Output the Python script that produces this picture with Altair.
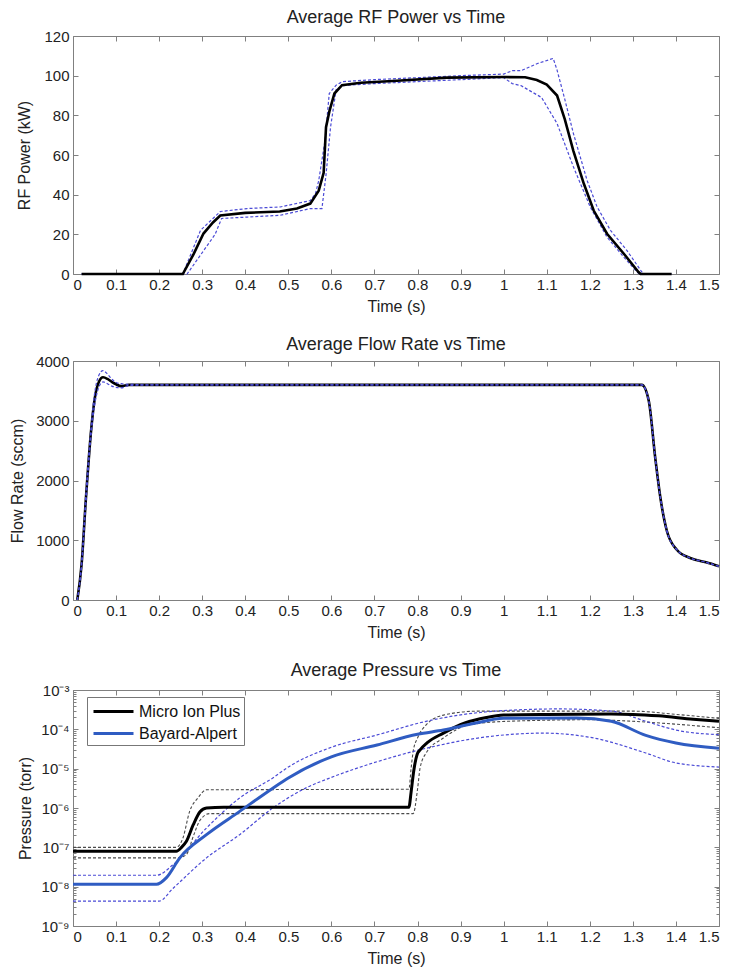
import altair as alt
import pandas as pd

FONT = "Liberation Sans"
BLUE_DASH = "#4b4bd6"
BLUE_MEAN = "#2f5cc2"
GRAY_DASH = "#4a4a4a"
FRAME = "#808080"

# ---------------- data: RF power ----------------
rf_mean_t = [0.02, 0.255, 0.28, 0.303, 0.325, 0.342, 0.40, 0.48, 0.52, 0.551, 0.5705, 0.582, 0.5875,
             0.5953, 0.607, 0.6246, 0.6685, 0.7523, 0.8685, 1.0, 1.05, 1.077, 1.10, 1.124, 1.142,
             1.162, 1.186, 1.209, 1.24, 1.279, 1.313, 1.318, 1.39]
rf_mean_v = [0, 0, 10, 20.4, 26, 29.5, 30.8, 31.5, 33, 35.5, 42, 51, 74,
             82, 91, 95.2, 96.4, 97.4, 99, 99.3, 99.2, 97.8, 95.5, 90, 78,
             62, 45.6, 32, 20.3, 10.2, 1, 0, 0]
rf_up_t = [0.02, 0.255, 0.296, 0.325, 0.342, 0.404, 0.481, 0.551, 0.563, 0.5705, 0.585, 0.595, 0.611,
           0.626, 0.70, 0.80, 0.90, 1.0, 1.02, 1.04, 1.077, 1.115, 1.124, 1.142, 1.162, 1.194, 1.217,
           1.248, 1.286, 1.321, 1.325, 1.39]
rf_up_v = [0, 0, 22, 28, 31.5, 33, 33.8, 37, 40.5, 47, 67, 91, 95.2,
           97, 98, 99, 100, 100.8, 102.5, 102.5, 106, 108.7, 102.8, 88, 70.8, 47, 33.8,
           22, 11.9, 1, 0, 0]
rf_lo_t = [0.02, 0.265, 0.33, 0.345, 0.404, 0.481, 0.551, 0.578, 0.5875, 0.598, 0.611, 0.626, 0.70,
           0.80, 0.90, 1.0, 1.02, 1.04, 1.088, 1.124, 1.162, 1.201, 1.24, 1.279, 1.31, 1.315, 1.39]
rf_lo_v = [0, 0, 20, 28, 28.7, 29.6, 33, 33, 50, 74, 93, 95, 96,
           97, 98, 99, 96, 95, 89, 75.9, 54, 33.8, 18.6, 8.5, 1, 0, 0]

# ---------------- data: flow rate ----------------
fl_t = [0.01, 0.02, 0.03, 0.0426, 0.05, 0.06, 0.0697, 0.08, 0.09, 0.10, 0.112, 0.13, 0.2,
        1.321, 1.337, 1.352, 1.364, 1.379, 1.402, 1.433, 1.47, 1.5]
fl_mean_v = [0, 600, 1700, 2880, 3350, 3650, 3727, 3700, 3650, 3610, 3580, 3600, 3600,
             3600, 3330, 2376, 1707, 1155, 842, 703, 630, 564]
fl_up_v = [0, 650, 1800, 2950, 3450, 3760, 3840, 3780, 3700, 3640, 3620, 3610, 3600,
           3600, 3330, 2376, 1707, 1155, 842, 703, 630, 564]
fl_lo_v = [0, 550, 1600, 2800, 3250, 3560, 3650, 3620, 3580, 3560, 3550, 3590, 3600,
           3600, 3330, 2376, 1707, 1155, 842, 703, 630, 564]

# ---------------- data: pressure ----------------
mi_mean_t = [0, 0.24, 0.252, 0.263, 0.279, 0.295, 0.31, 0.35, 0.78, 0.785, 0.791, 0.799, 0.806,
             0.822, 0.86, 0.91, 0.96, 1.0, 1.1, 1.25, 1.3, 1.36, 1.44, 1.5]
mi_mean_v = [8e-8, 8e-8, 1e-7, 1.4e-7, 3.7e-7, 8e-7, 1e-6, 1.05e-6, 1.05e-6, 2.5e-6, 8.5e-6, 2.3e-5, 3e-5,
             4.5e-5, 8e-5, 1.45e-4, 2e-4, 2.3e-4, 2.4e-4, 2.45e-4, 2.4e-4, 2.2e-4, 1.8e-4, 1.6e-4]
mi_up_t = [0, 0.24, 0.255, 0.271, 0.29, 0.31, 0.78, 0.785, 0.79, 0.80, 0.82, 0.86, 0.94, 1.3, 1.4, 1.5]
mi_up_v = [1e-7, 1e-7, 1.7e-7, 8.3e-7, 1.8e-6, 2.9e-6, 3e-6, 1e-5, 2.8e-5, 6e-5, 1.3e-4, 2.3e-4, 2.9e-4,
           2.9e-4, 2.4e-4, 1.9e-4]
mi_lo_t = [0, 0.245, 0.263, 0.28, 0.294, 0.317, 0.79, 0.80, 0.806, 0.82, 0.86, 0.92, 1.01, 1.2, 1.3, 1.4, 1.5]
mi_lo_v = [5.4e-8, 5.4e-8, 6.5e-8, 2e-7, 4.7e-7, 7.2e-7, 7.2e-7, 3e-6, 1.05e-5, 2.5e-5, 6e-5, 1.3e-4,
           1.6e-4, 1.75e-4, 1.6e-4, 1.35e-4, 1.1e-4]
ba_mean_t = [0, 0.194, 0.217, 0.248, 0.31, 0.387, 0.464, 0.5, 0.6, 0.706, 0.80, 0.86, 0.93, 1.0,
             1.17, 1.25, 1.33, 1.40, 1.5]
ba_mean_v = [1.15e-8, 1.15e-8, 1.7e-8, 5.4e-8, 2.1e-7, 8.2e-7, 3.2e-6, 5.8e-6, 2e-5, 4e-5, 7.5e-5, 9.6e-5,
             1.4e-4, 1.9e-4, 1.95e-4, 1.6e-4, 7e-5, 4.5e-5, 3.3e-5]
ba_up_t = [0, 0.194, 0.232, 0.31, 0.387, 0.464, 0.5, 0.6, 0.706, 0.82, 0.98, 1.13, 1.25, 1.33, 1.40, 1.5]
ba_up_v = [1.95e-8, 1.95e-8, 3.6e-8, 3.1e-7, 1.8e-6, 5.8e-6, 1.1e-5, 3.5e-5, 7.2e-5, 1.6e-4, 2.9e-4,
           3.3e-4, 2.9e-4, 1.6e-4, 9.6e-5, 7.3e-5]
ba_lo_t = [0, 0.2, 0.232, 0.31, 0.387, 0.464, 0.54, 0.6, 0.706, 0.82, 0.94, 1.09, 1.21, 1.33, 1.40, 1.5]
ba_lo_v = [4.3e-9, 4.3e-9, 9e-9, 5.4e-8, 2.1e-7, 1e-6, 3.2e-6, 6e-6, 1.5e-5, 3.3e-5, 6e-5, 8e-5, 6e-5,
           2.5e-5, 1.4e-5, 1.1e-5]

# ---------------- ticks ----------------
x_ticks = [0, 0.1, 0.2, 0.3, 0.4, 0.5, 0.6, 0.7, 0.8, 0.9, 1.0, 1.1, 1.2, 1.3, 1.4, 1.5]
rf_ticks = [0, 20, 40, 60, 80, 100, 120]
fl_ticks = [0, 1000, 2000, 3000, 4000]
p_ticks = [1e-9, 1e-8, 1e-7, 1e-6, 1e-5, 1e-4, 1e-3]
p_minor = [m * d for d in [1e-9, 1e-8, 1e-7, 1e-6, 1e-5, 1e-4] for m in range(2, 10)]

W = 646


def frame_df(t, v, s):
    return pd.DataFrame({"t": t, "v": v, "s": s})


xs = alt.Scale(domain=[0, 1.5], nice=False, zero=False)


def x_bottom():
    return alt.Axis(values=x_ticks, format="~g", title="Time (s)", offset=-5, tickSize=5,
                    labelPadding=3, titlePadding=6, grid=False, domain=False)


def x_top():
    return alt.Axis(values=x_ticks, orient="top", labels=False, title=None, offset=-5, tickSize=5,
                    grid=False, domain=False)


def make_axes_layers(df, ys, yticks, ytitle, ytitle_pad, ylabel_expr=None, yformat="d"):
    left_kwargs = dict(values=yticks, title=ytitle, offset=-5, tickSize=5, labelPadding=4,
                       titlePadding=ytitle_pad, grid=False, domain=False)
    if ylabel_expr:
        left_kwargs["labelExpr"] = ylabel_expr
    else:
        left_kwargs["format"] = yformat
    left = alt.Chart(df).mark_line(opacity=0).encode(
        x=alt.X("t:Q", scale=xs, axis=x_bottom()),
        y=alt.Y("v:Q", scale=ys, axis=alt.Axis(**left_kwargs)),
        detail="s:N",
    )
    right = alt.Chart(df).mark_line(opacity=0).encode(
        x=alt.X("t:Q", scale=xs, axis=x_top()),
        y=alt.Y("v:Q", scale=ys, axis=alt.Axis(values=yticks, orient="right", labels=False,
                                                title=None, offset=-5, tickSize=5,
                                                grid=False, domain=False)),
        detail="s:N",
    )
    return [left, right]


def plain_line(df, ys, color, width, dash=None, interp="linear"):
    kw = dict(color=color, strokeWidth=width, interpolate=interp)
    if dash:
        kw["strokeDash"] = dash
    return alt.Chart(df).mark_line(**kw).encode(
        x=alt.X("t:Q", scale=xs, axis=None),
        y=alt.Y("v:Q", scale=ys, axis=None),
        detail="s:N",
    )


def title_params(text, offset=0):
    return alt.TitleParams(text, fontSize=18, fontWeight="normal", font=FONT, color="#222",
                           offset=offset)


# ---------- top panel ----------
rf_b = pd.concat([frame_df(rf_up_t, rf_up_v, "up"), frame_df(rf_lo_t, rf_lo_v, "lo")])
rf_m = frame_df(rf_mean_t, rf_mean_v, "mean")
rf_ys = alt.Scale(domain=[0, 120], nice=False, zero=False)
top = alt.layer(
    *make_axes_layers(rf_m, rf_ys, rf_ticks, "RF Power (kW)", 11),
    plain_line(rf_b, rf_ys, BLUE_DASH, 1.2, [3, 2]),
    plain_line(rf_m, rf_ys, "#000000", 2.6),
).resolve_axis(x="independent", y="independent").properties(
    width=W, height=238, title=title_params("Average RF Power vs Time", 2))

# ---------- middle panel ----------
fl_b = pd.concat([frame_df(fl_t, fl_up_v, "up"), frame_df(fl_t, fl_lo_v, "lo")])
fl_m = frame_df(fl_t, fl_mean_v, "mean")
fl_ys = alt.Scale(domain=[0, 4000], nice=False, zero=False)
mid = alt.layer(
    *make_axes_layers(fl_m, fl_ys, fl_ticks, "Flow Rate (sccm)", 10),
    plain_line(fl_m, fl_ys, "#000000", 2.6, interp="monotone"),
    plain_line(fl_b, fl_ys, BLUE_DASH, 1.2, [3, 2], interp="monotone"),
).resolve_axis(x="independent", y="independent").properties(
    width=W, height=239, title=title_params("Average Flow Rate vs Time", 0))

# ---------- bottom panel ----------
p_ys = alt.Scale(type="log", domain=[1e-9, 1e-3], nice=False)
sup_expr = ("'10' + '⁻' + substring('⁰¹²³⁴⁵⁶⁷⁸⁹', -round(log(datum.value)/LN10), "
            "-round(log(datum.value)/LN10)+1)")
mi_b = pd.concat([frame_df(mi_up_t, mi_up_v, "mi_up"), frame_df(mi_lo_t, mi_lo_v, "mi_lo")])
ba_b = pd.concat([frame_df(ba_up_t, ba_up_v, "ba_up"), frame_df(ba_lo_t, ba_lo_v, "ba_lo")])
means = pd.concat([frame_df(mi_mean_t, mi_mean_v, "Micro Ion Plus"),
                   frame_df(ba_mean_t, ba_mean_v, "Bayard-Alpert")])

minor_df = pd.DataFrame({"t": [0.0] * len(p_minor), "v": p_minor, "s": "minor"})


def minor_axis(orient):
    return alt.Chart(minor_df).mark_point(opacity=0).encode(
        x=alt.X("t:Q", scale=xs, axis=None),
        y=alt.Y("v:Q", scale=p_ys, axis=alt.Axis(values=p_minor, labels=False, title=None,
                                                  offset=-3, tickSize=3, orient=orient,
                                                  grid=False, domain=False)),
    )


mean_lines = alt.Chart(means).mark_line(strokeWidth=3, interpolate="monotone").encode(
    x=alt.X("t:Q", scale=xs, axis=None),
    y=alt.Y("v:Q", scale=p_ys, axis=None),
    color=alt.Color("s:N", scale=alt.Scale(domain=["Micro Ion Plus", "Bayard-Alpert"],
                                           range=["#000000", BLUE_MEAN]),
                    legend=alt.Legend(title=None, orient="none", legendX=14, legendY=7,
                                      symbolType="M-2,0L2,0", symbolStrokeWidth=3,
                                      symbolSize=400, symbolOffset=12,
                                      labelFontSize=16, labelFont=FONT, labelColor="#111",
                                      strokeColor="#777", fillColor="white", padding=3,
                                      rowPadding=2, labelOffset=14)),
)

bot = alt.layer(
    *make_axes_layers(means, p_ys, p_ticks, "Pressure (torr)", 7, ylabel_expr=sup_expr),
    minor_axis("left"), minor_axis("right"),
    plain_line(mi_b, p_ys, GRAY_DASH, 1.1, [3, 2], interp="monotone"),
    plain_line(ba_b, p_ys, BLUE_DASH, 1.2, [3, 2], interp="monotone"),
    mean_lines,
).resolve_axis(x="independent", y="independent").properties(
    width=W, height=236, title=title_params("Average Pressure vs Time", 3))

chart = alt.vconcat(top, mid, bot, spacing=20, background="white").resolve_scale(
    color="independent").properties(
    padding={"left": 9, "top": 8, "right": 6, "bottom": 2}
).configure_view(stroke=FRAME, strokeWidth=1).configure_axis(
    grid=False, domain=False, tickColor=FRAME, labelFont=FONT, titleFont=FONT,
    labelFontSize=15, titleFontSize=16, titleFontWeight="normal", labelColor="#222",
    titleColor="#222"
)

chart.save("out.html", embed_options={"renderer": "svg", "actions": False})
